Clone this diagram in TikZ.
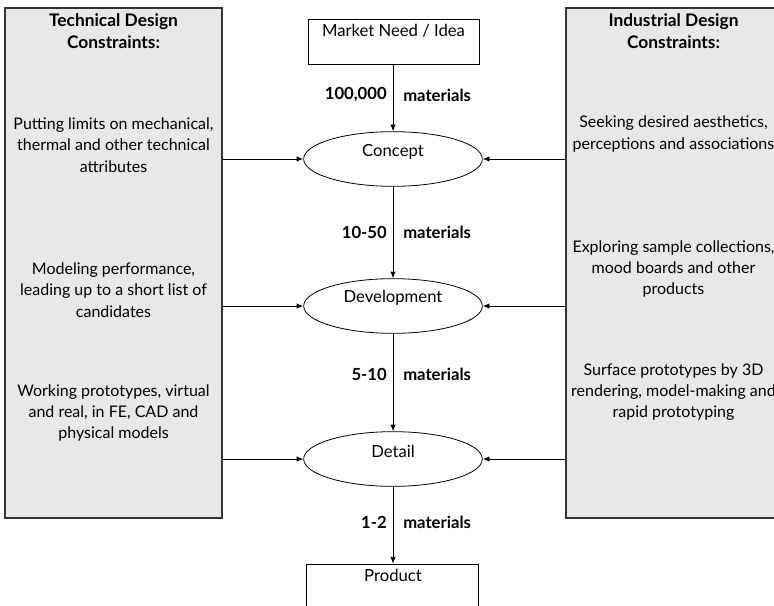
\documentclass[tikz,border=0pt]{standalone}
\usepackage{fontspec}
\setmainfont{Lato}
\usetikzlibrary{shapes.geometric,arrows.meta}
\begin{document}
\begin{tikzpicture}[x=0.75pt,y=-0.75pt,
  every node/.style={font=\fontsize{12.5}{16}\selectfont, inner sep=0pt},
  panel/.style={draw=black!80, fill=black!9, line width=0.8pt, rectangle},
  stage/.style={draw, ellipse, fill=white, line width=0.6pt,
                minimum width=134pt, minimum height=41pt},
  endbox/.style={draw, rectangle, fill=white, line width=0.6pt},
  flow/.style={line width=0.6pt, -{Latex[length=5pt,width=4pt]}},
  feed/.style={line width=0.6pt, -{Latex[length=5pt,width=4pt]}},
  count/.style={font=\fontsize{12.5}{16}\bfseries\selectfont},
  title/.style={align=center, font=\fontsize{13}{16}\bfseries\selectfont},
  note/.style={align=center, font=\fontsize{12}{16}\selectfont}]
\useasboundingbox (0,0) rectangle (774,606);
\clip (0,0) rectangle (774,606);

% side panels with the constraint lists
\node[panel, minimum width=162.75pt, minimum height=382.5pt] (tech) at (113.5,263) {};
\node[panel, minimum width=161.25pt, minimum height=382.5pt] (ind) at (673.5,263) {};

\node[title] (techTitle) at (113.5,31) {Technical Design\\Constraints:};
\node[note] (tech1) at (113.5,145) {Putting limits on mechanical,\\thermal and other technical\\attributes};
\node[note] (tech2) at (113.5,290) {Modeling performance,\\leading up to a short list of\\candidates};
\node[note] (tech3) at (113.5,413) {Working prototypes, virtual\\and real, in FE, CAD and\\physical models};

\node[title] (indTitle) at (673.5,31) {Industrial Design\\Constraints:};
\node[note] (ind1) at (673.5,134) {Seeking desired aesthetics,\\perceptions and associations};
\node[note] (ind2) at (673.5,269) {Exploring sample collections,\\mood boards and other\\products};
\node[note] (ind3) at (673.5,392) {Surface prototypes by 3D\\rendering, model-making and\\rapid prototyping};

% central flow
\node[endbox, minimum width=128.25pt, minimum height=33.75pt] (need) at (393.5,41.5) {};
\node (needText) at (393.5,31) {Market Need / Idea};

\node[stage] (concept) at (393,159) {};
\node (conceptText) at (393,152) {Concept};
\node[stage] (dev) at (393,306) {};
\node (devText) at (393,298) {Development};
\node[stage] (detail) at (393,459) {};
\node (detailText) at (393,451) {Detail};

\node[endbox, minimum width=129pt, minimum height=60pt] (product) at (392,604) {};
\node (productText) at (393,575) {Product};

\draw[flow] (need.south -| concept.north) -- (concept.north);
\draw[flow] (concept.south) -- (dev.north);
\draw[flow] (dev.south) -- (detail.north);
\draw[flow] (detail.south) -- (detail.south |- product.north);

% material counts along the flow
\node[count, anchor=east] (n1) at (387,95) {100,000};
\node[count, anchor=west] (m1) at (403,95) {materials};
\node[count, anchor=east] (n2) at (387,232) {10-50};
\node[count, anchor=west] (m2) at (403,232) {materials};
\node[count, anchor=east] (n3) at (387,374) {5-10};
\node[count, anchor=west] (m3) at (403,374) {materials};
\node[count, anchor=east] (n4) at (387,522) {1-2};
\node[count, anchor=west] (m4) at (403,522) {materials};

% constraints feeding each stage
\draw[feed] (concept.west -| tech.east) -- (concept.west);
\draw[feed] (dev.west -| tech.east) -- (dev.west);
\draw[feed] (detail.west -| tech.east) -- (detail.west);
\draw[feed] (concept.east -| ind.west) -- (concept.east);
\draw[feed] (dev.east -| ind.west) -- (dev.east);
\draw[feed] (detail.east -| ind.west) -- (detail.east);
\end{tikzpicture}
\end{document}
